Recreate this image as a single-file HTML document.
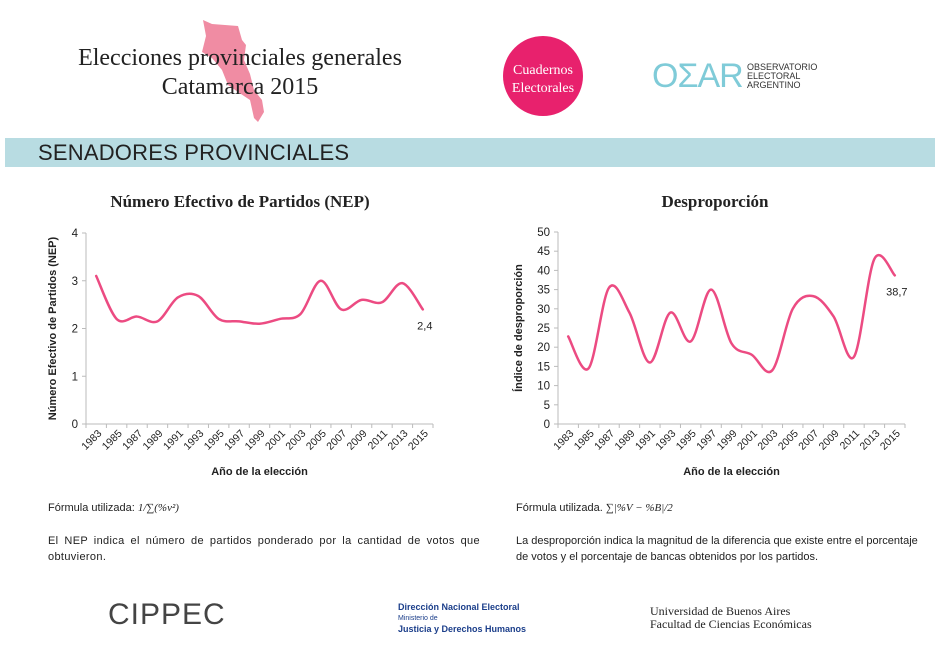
<!DOCTYPE html>
<html><head><meta charset="utf-8">
<style>
body{margin:0;width:941px;height:662px;background:#fff;position:relative;overflow:hidden;font-family:"Liberation Sans",sans-serif;}
.abs{position:absolute;}
.serif{font-family:"Liberation Serif",serif;}
</style></head><body>
<svg class="abs" style="left:0;top:0" width="941" height="662">
  <path d="M203,20 L212,24 L238,26 L242,40 L246,45 L244,60 L250,74 L254,90 L262,100 L264,112 L258,122 L254,118 L250,100 L238,92 L228,85 L222,70 L212,58 L202,52 L206,36 Z" fill="#f08ca3"/>
  <circle cx="543" cy="76" r="40" fill="#e8216d"/>
  <rect x="5" y="138" width="930" height="29" fill="#b8dce2"/>
</svg>
<div class="abs serif" style="left:40px;top:44px;width:400px;text-align:center;font-size:24px;line-height:29px;color:#222">Elecciones provinciales generales<br>Catamarca 2015</div>
<div class="abs serif" style="left:503px;top:62px;width:80px;text-align:center;font-size:14px;line-height:18px;color:#fff">Cuadernos<br>Electorales</div>
<div class="abs" style="left:652px;top:58px;font-size:34px;color:#7fcbd8;letter-spacing:-1px;line-height:36px">OΣAR</div>
<div class="abs" style="left:747px;top:63px;font-size:9px;line-height:9px;color:#333">OBSERVATORIO<br>ELECTORAL<br>ARGENTINO</div>
<div class="abs" style="left:38px;top:140px;font-size:22px;color:#222;letter-spacing:0.2px">SENADORES PROVINCIALES</div>
<div class="abs serif" style="left:40px;top:192px;width:400px;text-align:center;font-size:17px;font-weight:bold;color:#222">Número Efectivo de Partidos (NEP)</div>
<div class="abs serif" style="left:515px;top:192px;width:400px;text-align:center;font-size:17px;font-weight:bold;color:#222">Desproporción</div>
<svg class="abs" id="c1" style="left:0;top:0" width="941" height="662"></svg>
<div class="abs" style="left:48px;top:502px;font-size:11px;color:#222">Fórmula utilizada: <span class="serif" style="font-style:italic">1/∑(%v²)</span></div>
<div class="abs" style="left:48px;top:533px;width:432px;font-size:11px;line-height:16px;color:#222;text-align:justify;letter-spacing:0.35px;word-spacing:2px">El NEP indica el número de partidos ponderado por la cantidad de votos que obtuvieron.</div>
<div class="abs" style="left:516px;top:502px;font-size:11px;color:#222">Fórmula utilizada. <span class="serif" style="font-style:italic">∑|%V − %B|/2</span></div>
<div class="abs" style="left:516px;top:533px;width:415px;font-size:11px;line-height:16px;color:#222">La desproporción indica la magnitud de la diferencia que existe entre el porcentaje de votos y el porcentaje de bancas obtenidos por los partidos.</div>
<div class="abs" style="left:108px;top:598px;font-size:30px;color:#444;letter-spacing:1px">CIPPEC</div>
<div class="abs" style="left:398px;top:602px;font-size:9px;line-height:10px;color:#1b3e8a;font-weight:bold">Dirección Nacional Electoral<br><span style="font-size:7px;font-weight:normal">Ministerio de</span><br>Justicia y Derechos Humanos</div>
<div class="abs serif" style="left:650px;top:605px;font-size:12px;line-height:13px;color:#222">Universidad de Buenos Aires<br>Facultad de Ciencias Económicas</div>
<script>
const years=["1983","1985","1987","1989","1991","1993","1995","1997","1999","2001","2003","2005","2007","2009","2011","2013","2015"];
const nepValues=[3.1,2.2,2.25,2.15,2.65,2.68,2.2,2.15,2.1,2.2,2.3,3.0,2.4,2.6,2.55,2.95,2.4];
const nepTicks=[0,1,2,3,4];
const despValues=[22.8,14.5,35.5,29,16,29,21.5,35,21,18,14,30,33.3,28,17.5,43,38.7];
const despTicks=[0,5,10,15,20,25,30,35,40,45,50];
const NS="http://www.w3.org/2000/svg";
const svg=document.getElementById('c1');
function mk(t,a){const e=document.createElementNS(NS,t);for(const k in a)e.setAttribute(k,a[k]);svg.appendChild(e);return e;}
function chart(o){
  const n=years.length,step=(o.x1-o.x0)/n;
  const X=i=>o.x0+step*(i+0.5);
  const Y=v=>o.yb-(v-o.min)/(o.max-o.min)*(o.yb-o.yt);
  let e=mk('line',{x1:o.x0,y1:o.yt,x2:o.x0,y2:o.yb,stroke:'#bbb'});
  
  e=mk('line',{x1:o.x0,y1:o.yb,x2:o.x1,y2:o.yb,stroke:'#bbb'});
  
  o.ticks.forEach(t=>{
    mk('line',{x1:o.x0-4,y1:Y(t),x2:o.x0,y2:Y(t),stroke:'#bbb'});
    e=mk('text',{x:o.x0-8,y:Y(t)+4,'text-anchor':'end','font-size':11.5,fill:'#222','font-family':'Liberation Sans'});
    e.textContent=t;
    
  });
  for(let i=0;i<=n;i++)mk('line',{x1:o.x0+step*i,y1:o.yb,x2:o.x0+step*i,y2:o.yb+4,stroke:'#bbb'});
  years.forEach((y,i)=>{
    e=mk('text',{x:X(i)+6,y:o.yb+10,'text-anchor':'end','font-size':10.5,fill:'#222','font-family':'Liberation Sans',transform:`rotate(-45 ${X(i)+6} ${o.yb+10})`});
    e.textContent=y;
    
  });
  const pts=o.vals.map((v,i)=>[X(i),Y(v)]);
  let d='M'+pts[0][0]+','+pts[0][1];
  for(let i=0;i<pts.length-1;i++){
    const p0=pts[Math.max(0,i-1)],p1=pts[i],p2=pts[i+1],p3=pts[Math.min(pts.length-1,i+2)];
    d+=` C${p1[0]+(p2[0]-p0[0])/6},${p1[1]+(p2[1]-p0[1])/6} ${p2[0]-(p3[0]-p1[0])/6},${p2[1]-(p3[1]-p1[1])/6} ${p2[0]},${p2[1]}`;
  }
  e=mk('path',{d:d,fill:'none',stroke:'#ec4b82','stroke-width':2.5,'stroke-linecap':'round'});
  
  const last=pts[pts.length-1];
  e=mk('text',{x:last[0]+o.lx,y:last[1]+o.ly,'text-anchor':'middle','font-size':11,fill:'#222','font-family':'Liberation Sans'});
  e.textContent=String(o.vals[o.vals.length-1]).replace('.',',');
  
  e=mk('text',{x:(o.x0+o.x1)/2,y:o.yb+51,'text-anchor':'middle','font-size':11,'font-weight':'bold',fill:'#222','font-family':'Liberation Sans'});
  e.textContent='Año de la elección';
  
  const cy=(o.yt+o.yb)/2;
  e=mk('text',{x:o.ytx,y:cy,'text-anchor':'middle','font-size':11,'font-weight':'bold',fill:'#222','font-family':'Liberation Sans',transform:`rotate(-90 ${o.ytx} ${cy})`});
  e.textContent=o.ytitle;
  
}
chart({p:'nep',x0:86,x1:433,yt:233,yb:424,min:0,max:4,ticks:nepTicks,vals:nepValues,lx:2,ly:20,ytx:56,ytitle:'Número Efectivo de Partidos (NEP)'});
chart({p:'desp',x0:558,x1:905,yt:232,yb:424,min:0,max:50,ticks:despTicks,vals:despValues,lx:2,ly:20,ytx:522,ytitle:'Índice de desproporción'});
</script>
</body></html>
